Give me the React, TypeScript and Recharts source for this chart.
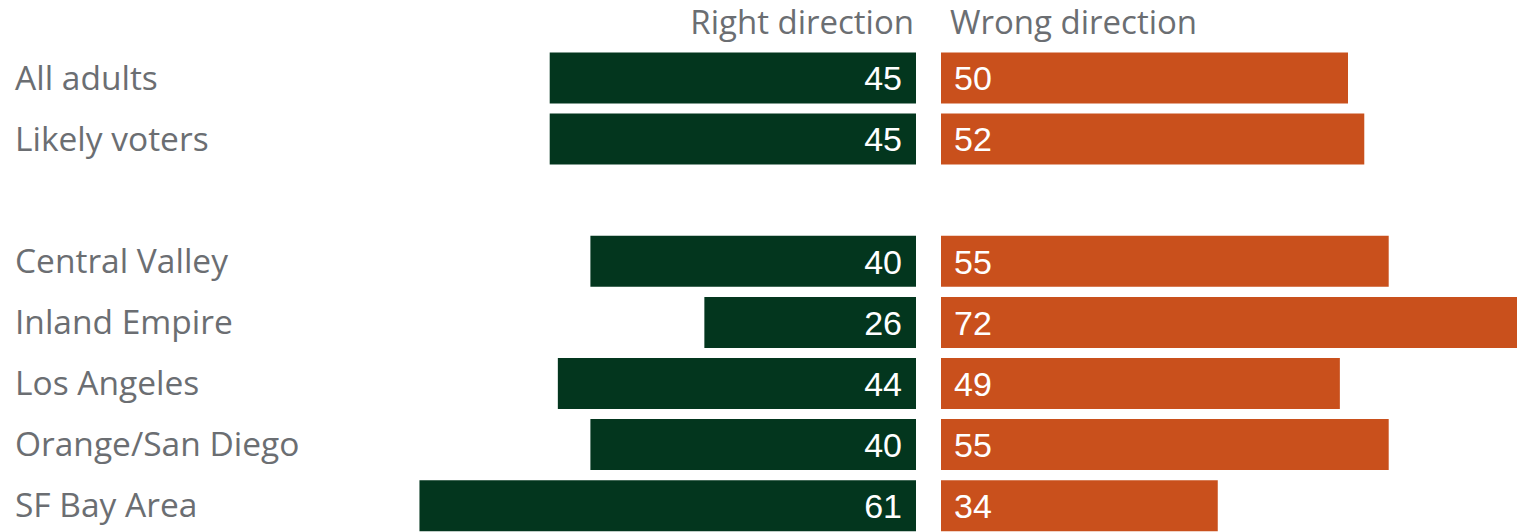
import React from "react";
import { BarChart, Bar, XAxis, YAxis, LabelList } from "recharts";

const categories = ["All adults", "Likely voters", " ", "Central Valley", "Inland Empire", "Los Angeles", "Orange/San Diego", "SF Bay Area"];
const rightDirection: (number | null)[] = [45, 45, null, 40, 26, 44, 40, 61];
const wrongDirection: (number | null)[] = [50, 52, null, 55, 72, 49, 55, 34];
const seriesNames = ["Right direction", "Wrong direction"];

const data = categories.map((name, i) => ({ name, right: rightDirection[i], wrong: wrongDirection[i] }));

const GREEN = "#03361e";
const ORANGE = "#c9501c";
const GRAY = "#6b6e72";
const LABEL_FONT = "'Open Sans', 'Noto Sans', sans-serif";
const NUM_FONT = "'Liberation Sans', Arial, sans-serif";

const TOP = 47.5;
const BAND = 61.1;
const H = 540;
const BOTTOM = H - TOP - BAND * categories.length;
const BAR = 51;

const CategoryTick = (props: any) => {
  const { y, payload } = props;
  return (
    <text x={15} y={y} dy="0.35em" textAnchor="start" fill={GRAY} fontSize={33.5} fontFamily={LABEL_FONT}>
      {payload.value}
    </text>
  );
};

const LeftLabel = (props: any) => {
  const { x, y, width, height, value } = props;
  if (value == null) return null;
  const right = Math.max(x, x + width);
  return (
    <text x={right - 14} y={y + height / 2} dy="0.36em" textAnchor="end" fill="#fff" fontSize={34} fontFamily={NUM_FONT}>
      {value}
    </text>
  );
};

const RightLabel = (props: any) => {
  const { x, y, width, height, value } = props;
  if (value == null) return null;
  const left = Math.min(x, x + width);
  return (
    <text x={left + 13} y={y + height / 2} dy="0.36em" textAnchor="start" fill="#fff" fontSize={34} fontFamily={NUM_FONT}>
      {value}
    </text>
  );
};

export default function App() {
  return (
    <div style={{ position: "absolute", left: 0, top: 0, width: 1517, height: 532, overflow: "hidden", background: "#fff" }}>
      <div style={{ position: "absolute", right: 1517 - 914, top: -1, fontFamily: LABEL_FONT, fontSize: 33, color: GRAY, whiteSpace: "nowrap" }}>
        {seriesNames[0]}
      </div>
      <div style={{ position: "absolute", left: 950, top: -1, fontFamily: LABEL_FONT, fontSize: 33, color: GRAY, whiteSpace: "nowrap" }}>
        {seriesNames[1]}
      </div>
      <div style={{ position: "absolute", left: 0, top: 0 }}>
        <BarChart width={916} height={H} data={data} layout="vertical" margin={{ top: TOP, right: 0, bottom: BOTTOM, left: 0 }} barSize={BAR}>
          <XAxis type="number" domain={[0, 100]} reversed hide />
          <YAxis type="category" dataKey="name" width={102} axisLine={false} tickLine={false} tick={<CategoryTick />} interval={0} />
          <Bar dataKey="right" fill={GREEN} isAnimationActive={false}>
            <LabelList dataKey="right" content={<LeftLabel />} />
          </Bar>
        </BarChart>
      </div>
      <div style={{ position: "absolute", left: 941, top: 0 }}>
        <BarChart width={814} height={H} data={data} layout="vertical" margin={{ top: TOP, right: 0, bottom: BOTTOM, left: 0 }} barSize={BAR}>
          <XAxis type="number" domain={[0, 100]} hide />
          <YAxis type="category" dataKey="name" hide width={0} />
          <Bar dataKey="wrong" fill={ORANGE} isAnimationActive={false}>
            <LabelList dataKey="wrong" content={<RightLabel />} />
          </Bar>
        </BarChart>
      </div>
    </div>
  );
}
